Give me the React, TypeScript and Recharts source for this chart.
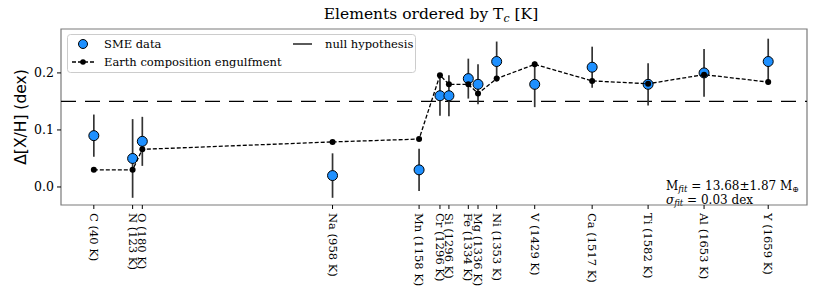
import React from 'react'
import {
  ComposedChart, Scatter, XAxis, YAxis, ErrorBar, ReferenceLine, ReferenceArea, Legend, Customized,
} from 'recharts'

// elements sorted by condensation temperature
const elements = ['C', 'N', 'O', 'Na', 'Mn', 'Cr', 'Si', 'Fe', 'Mg', 'Ni', 'V', 'Ca', 'Ti', 'Al', 'Y']
const tcKelvin = [40, 123, 180, 958, 1158, 1296, 1296, 1334, 1336, 1353, 1429, 1517, 1582, 1653, 1659]
// position along the x axis (axis runs 0..100)
const axisPos = [4.4, 9.6, 10.9, 36.4, 48.0, 50.8, 52.0, 54.6, 55.9, 58.4, 63.5, 71.2, 78.7, 86.2, 94.8]
const smeValues = [0.09, 0.05, 0.08, 0.02, 0.03, 0.16, 0.16, 0.19, 0.18, 0.22, 0.18, 0.21, 0.18, 0.2, 0.22]
const smeErrors = [0.037, 0.069, 0.043, 0.039, 0.037, 0.035, 0.036, 0.035, 0.035, 0.035, 0.04, 0.036, 0.037, 0.042, 0.04]
const modelValues = [0.03, 0.03, 0.066, 0.079, 0.084, 0.196, 0.18, 0.18, 0.164, 0.19, 0.215, 0.186, 0.181, 0.197, 0.184]
const yTicks = [0, 0.1, 0.2]
const nullHypothesis = 0.15
const xDomain: [number, number] = [0, 100]
const yDomain: [number, number] = [-0.0316, 0.277]

const rows = elements.map((el, i) => ({
  name: el,
  label: `${el} (${tcKelvin[i]} K)`,
  x: axisPos[i],
  sme: smeValues[i],
  err: smeErrors[i],
  model: modelValues[i],
}))

const SERIF = '"DejaVu Serif", serif'
const SANS = '"DejaVu Sans", sans-serif'
const BLUE = '#1e90ff'

function XTick({ x, y, payload }: any) {
  const row = rows.find(r => r.x === payload.value)
  return (
    <text
      transform={`translate(${x},${y + 2}) rotate(90)`}
      textAnchor="start"
      dominantBaseline="central"
      fontFamily={SERIF}
      fontSize={11.5}
      fill="#000"
    >
      {row ? row.label : ''}
    </text>
  )
}

function SmeDot({ cx, cy }: any) {
  return <circle cx={cx} cy={cy} r={5} fill={BLUE} stroke="#000" strokeWidth={1} />
}

function ModelDot({ cx, cy }: any) {
  return <circle cx={cx} cy={cy} r={3} fill="#000" />
}

function LegendBox() {
  return (
    <svg width={349} height={39} style={{ display: 'block' }}>
      <rect x={0.5} y={0.5} width={348} height={38} rx={3} fill="#fff" fillOpacity={0.85} stroke="#ccc" />
      <circle cx={16} cy={10} r={4.5} fill={BLUE} stroke="#000" strokeWidth={1} />
      <text x={37} y={10} dominantBaseline="central" fontFamily={SERIF} fontSize={11.5}>SME data</text>
      <line x1={5} y1={28} x2={28} y2={28} stroke="#000" strokeWidth={1.3} strokeDasharray="4 2" />
      <circle cx={16} cy={28} r={2.8} fill="#000" />
      <text x={37} y={28} dominantBaseline="central" fontFamily={SERIF} fontSize={11.5}>Earth composition engulfment</text>
      <line x1={226} y1={10} x2={245} y2={10} stroke="#000" strokeWidth={1.3} />
      <text x={258} y={10} dominantBaseline="central" fontFamily={SERIF} fontSize={11.5}>null hypothesis</text>
    </svg>
  )
}

function Annotations() {
  return (
    <g>
      <text x={431} y={19} textAnchor="middle" fontFamily={SERIF} fontSize={15.5} fill="#000">
        Elements ordered by T
        <tspan fontSize={11} fontStyle="italic" dy={3}>c</tspan>
        <tspan dy={-3}> [K]</tspan>
      </text>
      <text
        transform="translate(21,117) rotate(-90)"
        textAnchor="middle"
        dominantBaseline="central"
        fontFamily={SANS}
        fontSize={15.5}
        fill="#000"
      >
        Δ[X/H] (dex)
      </text>
      <text x={666} y={190} fontFamily={SERIF} fontSize={12} fill="#000">
        M<tspan fontSize={8.5} fontStyle="italic" dy={2}>fit</tspan><tspan dy={-2}> =  13.68±1.87 M</tspan><tspan fontSize={8} dy={2}>⊕</tspan>
      </text>
      <text x={666} y={204} fontFamily={SERIF} fontSize={12} fill="#000">
        <tspan fontStyle="italic">σ</tspan><tspan fontSize={8.5} fontStyle="italic" dy={2}>fit</tspan><tspan dy={-2}> = 0.03 dex</tspan>
      </text>
    </g>
  )
}

export default function App() {
  return (
    <div style={{ position: 'absolute', left: 0, top: 0, background: '#fff' }}>
      <ComposedChart width={814} height={288} data={rows} margin={{ top: 29, right: 7, bottom: 0, left: 0 }}>
        <XAxis
          dataKey="x"
          type="number"
          domain={xDomain}
          ticks={axisPos}
          interval={0}
          tick={<XTick />}
          tickSize={4}
          tickLine={{ stroke: '#000' }}
          axisLine={false}
          height={83}
          allowDataOverflow
        />
        <YAxis
          type="number"
          domain={yDomain}
          ticks={yTicks}
          tickFormatter={(v: number) => v.toFixed(1)}
          tick={{ fontFamily: SERIF, fontSize: 12.5, fill: '#000' }}
          tickSize={4}
          tickMargin={3}
          tickLine={{ stroke: '#000' }}
          axisLine={false}
          width={61}
          allowDataOverflow
        />
        <ReferenceArea
          x1={xDomain[0]}
          x2={xDomain[1]}
          y1={yDomain[0]}
          y2={yDomain[1]}
          fill="none"
          stroke="#7a7a7a"
          strokeWidth={1.2}
        />
        <ReferenceLine y={nullHypothesis} stroke="#000" strokeWidth={1.3} strokeDasharray="15 9" />
        <Scatter dataKey="sme" shape={<SmeDot />} isAnimationActive={false}>
          <ErrorBar dataKey="err" direction="y" width={0} stroke="#333" strokeWidth={1.7} />
        </Scatter>
        <Scatter
          dataKey="model"
          fill="#000"
          shape={<ModelDot />}
          line={{ stroke: '#000', strokeWidth: 1.3, strokeDasharray: '4 2' }}
          isAnimationActive={false}
        />
        <Legend
          layout="vertical"
          align="center"
          verticalAlign="middle"
          wrapperStyle={{ left: 67, top: 34, width: 349, height: 39 }}
          content={() => <LegendBox />}
        />
        <Customized component={Annotations} />
      </ComposedChart>
    </div>
  )
}
